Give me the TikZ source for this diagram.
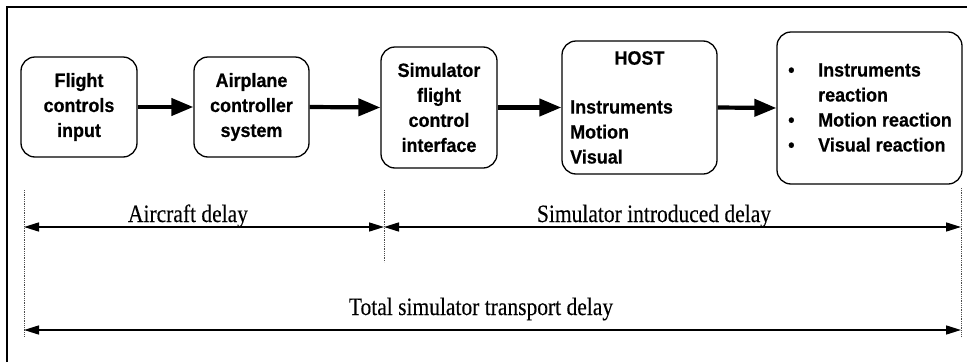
\documentclass[tikz,border=0pt]{standalone}
\usepackage{fontspec}
\setmainfont{Liberation Serif}
\newfontfamily\serifdim[FakeStretch=0.86,FakeBold=0.25]{Liberation Serif}
\newfontfamily\arialfont[BoldFeatures={FakeStretch=0.93,FakeBold=0.5}]{Liberation Sans}
\usetikzlibrary{arrows.meta}
\tikzset{
  blk/.style={draw=black, line width=1.3pt, rounded corners=14pt, inner sep=0pt},
  btxt/.style={font=\arialfont\bfseries\fontsize{19.3}{25}\selectfont, inner sep=0pt, align=center},
  flow/.style={line width=4.2pt, -{Triangle[length=22pt,width=17pt]}},
  dim/.style={line width=1.5pt, {Triangle[length=15pt,width=9pt]}-{Triangle[length=15pt,width=9pt]}},
  guide/.style={line width=0.8pt, densely dotted, black!70},
  dlabel/.style={font=\serifdim\fontsize{25}{28}\selectfont, inner sep=0pt, anchor=base},
  frame/.style={line width=2.8pt}
}
\begin{document}
\begin{tikzpicture}[x=1pt,y=-1pt]
\useasboundingbox (0,0) rectangle (967,362);
% frame
\coordinate (fbl) at (7,362);
\coordinate (ftl) at (7,7);
\coordinate (ftr) at (967,7);
\draw[frame] (fbl) -- (ftl) -- (ftr);
% boxes
\node[blk, minimum width=116pt, minimum height=100pt] (b1) at (79,107) {};
\node[btxt] (t1) at (b1.center) {Flight\\controls\\input};
\node[blk, minimum width=115pt, minimum height=100pt] (b2) at (251.5,107) {};
\node[btxt] (t2) at (b2.center) {Airplane\\controller\\system};
\node[blk, minimum width=116pt, minimum height=121pt] (b3) at (439,107.5) {};
\node[btxt] (t3) at (b3.center) {Simulator\\flight\\control\\interface};
\node[blk, minimum width=155pt, minimum height=133pt] (b4) at (639.5,107.5) {};
\node[btxt] (t4a) at (639.5,58) {HOST};
\node[btxt, align=left, anchor=west] (t4b) at (570,132) {Instruments\\Motion\\Visual};
\node[blk, minimum width=185pt, minimum height=152pt] (b5) at (869.5,108) {};
\node[btxt, align=left, anchor=west] (t5) at (788,107.5)
  {\makebox[30pt][l]{•}Instruments\\\makebox[30pt][l]{}reaction\\\makebox[30pt][l]{•}Motion reaction\\\makebox[30pt][l]{•}Visual reaction};
% flow arrows
\draw[flow] (b1.east) -- (b2.west);
\draw[flow] (b2.east) -- (b3.west);
\draw[flow] (b3.east) -- (b4.west);
\draw[flow] (b4.east) -- (b5.west);
% guides
\coordinate (g1t) at (24,190);
\coordinate (g1b) at (24,337);
\coordinate (g2t) at (384,190);
\coordinate (g2b) at (384,262);
\coordinate (g3t) at (961,188);
\coordinate (g3b) at (961,337);
\draw[guide] (g1t) -- (g1b);
\draw[guide] (g2t) -- (g2b);
\draw[guide] (g3t) -- (g3b);
% dimension arrows
\coordinate (a1) at (24,227);
\coordinate (a2) at (384,227);
\coordinate (a3) at (961,227);
\coordinate (c1) at (24,330);
\coordinate (c2) at (961,330);
\draw[dim] (a1) -- (a2);
\draw[dim] (a2) -- (a3);
\draw[dim] (c1) -- (c2);
\node[dlabel] (l1) at (188,222) {Aircraft delay};
\node[dlabel] (l2) at (654,222) {Simulator introduced delay};
\node[dlabel] (l3) at (481,315) {Total simulator transport delay};
\end{tikzpicture}
\end{document}
